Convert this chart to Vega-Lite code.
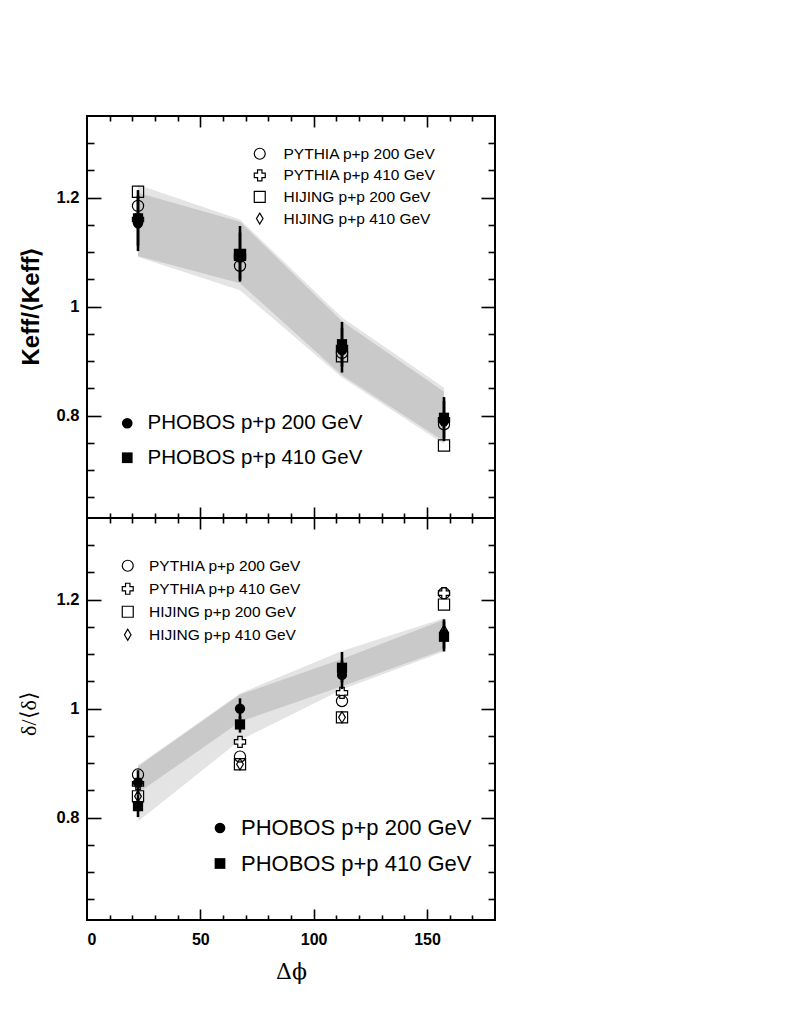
{
  "$schema": "https://vega.github.io/schema/vega-lite/v6.json",
  "background": "white",
  "padding": {"left": 16, "top": 114, "right": 5, "bottom": 5},
  "config": {
    "view": {"stroke": "black", "strokeWidth": 2},
    "axis": {"grid": false, "domain": false, "tickColor": "black", "tickWidth": 1.6, "labelColor": "black", "titleColor": "black"},
    "legend": {"title": null, "orient": "none", "padding": 0, "labelFont": "Liberation Sans", "labelColor": "black", "labelLimit": 0}
  },
  "datasets": {
    "kband": [
      {"phi": 22.5, "lo_out": 1.091, "hi_out": 1.224, "lo_in": 1.093, "hi_in": 1.209},
      {"phi": 67.5, "lo_out": 1.030, "hi_out": 1.160, "lo_in": 1.043, "hi_in": 1.156},
      {"phi": 112.5, "lo_out": 0.870, "hi_out": 0.980, "lo_in": 0.874, "hi_in": 0.973},
      {"phi": 157.5, "lo_out": 0.748, "hi_out": 0.851, "lo_in": 0.753, "hi_in": 0.844}
    ],
    "kphobos": [
      {"phi": 22.5, "exp": "PHOBOS p+p 200 GeV", "v": 1.153, "lo": 1.102, "hi": 1.204},
      {"phi": 22.5, "exp": "PHOBOS p+p 410 GeV", "v": 1.162, "lo": 1.112, "hi": 1.214},
      {"phi": 67.5, "exp": "PHOBOS p+p 200 GeV", "v": 1.091, "lo": 1.046, "hi": 1.136},
      {"phi": 67.5, "exp": "PHOBOS p+p 410 GeV", "v": 1.095, "lo": 1.050, "hi": 1.148},
      {"phi": 112.5, "exp": "PHOBOS p+p 200 GeV", "v": 0.920, "lo": 0.879, "hi": 0.961},
      {"phi": 112.5, "exp": "PHOBOS p+p 410 GeV", "v": 0.931, "lo": 0.890, "hi": 0.972},
      {"phi": 157.5, "exp": "PHOBOS p+p 200 GeV", "v": 0.790, "lo": 0.753, "hi": 0.827},
      {"phi": 157.5, "exp": "PHOBOS p+p 410 GeV", "v": 0.796, "lo": 0.758, "hi": 0.834}
    ],
    "kmodel": [
      {"phi": 22.5, "model": "PYTHIA p+p 200 GeV", "v": 1.185},
      {"phi": 67.5, "model": "PYTHIA p+p 200 GeV", "v": 1.075},
      {"phi": 112.5, "model": "PYTHIA p+p 200 GeV", "v": 0.915},
      {"phi": 157.5, "model": "PYTHIA p+p 200 GeV", "v": 0.784},
      {"phi": 22.5, "model": "PYTHIA p+p 410 GeV", "v": 1.160},
      {"phi": 67.5, "model": "PYTHIA p+p 410 GeV", "v": 1.093},
      {"phi": 112.5, "model": "PYTHIA p+p 410 GeV", "v": 0.925},
      {"phi": 157.5, "model": "PYTHIA p+p 410 GeV", "v": 0.792},
      {"phi": 22.5, "model": "HIJING p+p 200 GeV", "v": 1.211},
      {"phi": 67.5, "model": "HIJING p+p 200 GeV", "v": 1.095},
      {"phi": 112.5, "model": "HIJING p+p 200 GeV", "v": 0.909},
      {"phi": 157.5, "model": "HIJING p+p 200 GeV", "v": 0.745},
      {"phi": 22.5, "model": "HIJING p+p 410 GeV", "v": 1.157},
      {"phi": 67.5, "model": "HIJING p+p 410 GeV", "v": 1.090},
      {"phi": 112.5, "model": "HIJING p+p 410 GeV", "v": 0.922},
      {"phi": 157.5, "model": "HIJING p+p 410 GeV", "v": 0.790}
    ],
    "dband": [
      {"phi": 22.5, "lo_out": 0.793, "hi_out": 0.896, "lo_in": 0.845, "hi_in": 0.894},
      {"phi": 67.5, "lo_out": 0.942, "hi_out": 1.028, "lo_in": 0.976, "hi_in": 1.026},
      {"phi": 112.5, "lo_out": 1.035, "hi_out": 1.106, "lo_in": 1.041, "hi_in": 1.091},
      {"phi": 157.5, "lo_out": 1.105, "hi_out": 1.166, "lo_in": 1.108, "hi_in": 1.163}
    ],
    "dphobos": [
      {"phi": 22.5, "exp": "PHOBOS p+p 200 GeV", "v": 0.864, "lo": 0.842, "hi": 0.887},
      {"phi": 22.5, "exp": "PHOBOS p+p 410 GeV", "v": 0.821, "lo": 0.801, "hi": 0.842},
      {"phi": 67.5, "exp": "PHOBOS p+p 200 GeV", "v": 1.000, "lo": 0.981, "hi": 1.019},
      {"phi": 67.5, "exp": "PHOBOS p+p 410 GeV", "v": 0.971, "lo": 0.956, "hi": 0.986},
      {"phi": 112.5, "exp": "PHOBOS p+p 200 GeV", "v": 1.062, "lo": 1.036, "hi": 1.088},
      {"phi": 112.5, "exp": "PHOBOS p+p 410 GeV", "v": 1.075, "lo": 1.048, "hi": 1.104},
      {"phi": 157.5, "exp": "PHOBOS p+p 200 GeV", "v": 1.137, "lo": 1.110, "hi": 1.164},
      {"phi": 157.5, "exp": "PHOBOS p+p 410 GeV", "v": 1.132, "lo": 1.105, "hi": 1.160}
    ],
    "dmodel": [
      {"phi": 22.5, "model": "PYTHIA p+p 200 GeV", "v": 0.879},
      {"phi": 67.5, "model": "PYTHIA p+p 200 GeV", "v": 0.912},
      {"phi": 112.5, "model": "PYTHIA p+p 200 GeV", "v": 1.014},
      {"phi": 157.5, "model": "PYTHIA p+p 200 GeV", "v": 1.212},
      {"phi": 22.5, "model": "PYTHIA p+p 410 GeV", "v": 0.862},
      {"phi": 67.5, "model": "PYTHIA p+p 410 GeV", "v": 0.939},
      {"phi": 112.5, "model": "PYTHIA p+p 410 GeV", "v": 1.029},
      {"phi": 157.5, "model": "PYTHIA p+p 410 GeV", "v": 1.212},
      {"phi": 22.5, "model": "HIJING p+p 200 GeV", "v": 0.839},
      {"phi": 67.5, "model": "HIJING p+p 200 GeV", "v": 0.898},
      {"phi": 112.5, "model": "HIJING p+p 200 GeV", "v": 0.984},
      {"phi": 157.5, "model": "HIJING p+p 200 GeV", "v": 1.191},
      {"phi": 22.5, "model": "HIJING p+p 410 GeV", "v": 0.839},
      {"phi": 67.5, "model": "HIJING p+p 410 GeV", "v": 0.898},
      {"phi": 112.5, "model": "HIJING p+p 410 GeV", "v": 0.984},
      {"phi": 157.5, "model": "HIJING p+p 410 GeV", "v": 1.143}
    ]
  },
  "vconcat": [
    {
      "width": 408,
      "height": 402,
      "layer": [
        {
          "data": {"name": "kband"},
          "mark": {"type": "area", "color": "#e4e4e4"},
          "encoding": {
            "x": {"field": "phi", "type": "quantitative", "scale": {"domain": [0, 180], "nice": false},
              "axis": {"orient": "bottom", "values": [10, 20, 30, 40, 50, 60, 70, 80, 90, 100, 110, 120, 130, 140, 150, 160, 170], "labels": false, "title": null,
                "tickSize": {"condition": {"test": "datum.value % 50 === 0", "value": -11}, "value": -5}}},
            "y": {"field": "lo_out", "type": "quantitative", "scale": {"domain": [0.612, 1.35], "nice": false, "zero": false},
              "axis": {"orient": "left", "values": [0.65, 0.7, 0.75, 0.8, 0.85, 0.9, 0.95, 1, 1.05, 1.1, 1.15, 1.2, 1.25, 1.3], "labels": false, "title": null,
                "tickSize": {"condition": {"test": "abs(datum.value * 5 - round(datum.value * 5)) < 0.001", "value": -14}, "value": -7}}},
            "y2": {"field": "hi_out"}
          }
        },
        {
          "data": {"name": "kband"},
          "mark": {"type": "area", "color": "#c9c9c9"},
          "encoding": {
            "x": {"field": "phi", "type": "quantitative",
              "axis": {"orient": "top", "values": [10, 20, 30, 40, 50, 60, 70, 80, 90, 100, 110, 120, 130, 140, 150, 160, 170], "labels": false, "title": null,
                "tickSize": {"condition": {"test": "datum.value % 50 === 0", "value": -11}, "value": -5}}},
            "y": {"field": "lo_in", "type": "quantitative",
              "axis": {"orient": "right", "values": [0.65, 0.7, 0.75, 0.8, 0.85, 0.9, 0.95, 1, 1.05, 1.1, 1.15, 1.2, 1.25, 1.3], "labels": false, "title": null,
                "tickSize": {"condition": {"test": "abs(datum.value * 5 - round(datum.value * 5)) < 0.001", "value": -14}, "value": -7}}},
            "y2": {"field": "hi_in"}
          }
        },
        {
          "data": {"name": "kphobos"},
          "mark": {"type": "rule", "color": "black", "strokeWidth": 2.6},
          "encoding": {
            "x": {"field": "phi", "type": "quantitative", "axis": null},
            "y": {"field": "lo", "type": "quantitative",
              "axis": {"orient": "left", "values": [0.8, 1, 1.2], "format": "~g", "ticks": false, "labelPadding": 8,
                "labelFont": "Liberation Sans", "labelFontWeight": "bold", "labelFontSize": 16.5,
                "title": "Keff/⟨Keff⟩", "titleFont": "Liberation Sans", "titleFontWeight": "bold", "titleFontSize": 24, "titlePadding": 13, "titleY": 190}},
            "y2": {"field": "hi"}
          }
        },
        {
          "data": {"name": "kmodel"},
          "mark": {"type": "point", "filled": false, "color": "black", "strokeWidth": 1.2, "size": 125, "opacity": 1},
          "encoding": {
            "x": {"field": "phi", "type": "quantitative", "axis": null},
            "y": {"field": "v", "type": "quantitative", "axis": null},
            "shape": {"field": "model", "type": "nominal",
              "scale": {"domain": ["PYTHIA p+p 200 GeV", "PYTHIA p+p 410 GeV", "HIJING p+p 200 GeV", "HIJING p+p 410 GeV"],
                "range": ["circle", "cross", "square", "M0,-1L0.6,0L0,1L-0.6,0Z"]},
              "legend": {"legendX": 165, "legendY": 30, "labelFontSize": 15.5, "labelOffset": 16, "rowPadding": 3.6,
                "symbolSize": 120, "symbolStrokeWidth": 1.2, "symbolStrokeColor": "black", "symbolFillColor": "transparent"}}
          }
        },
        {
          "data": {"name": "kphobos"},
          "mark": {"type": "point", "filled": true, "color": "black", "size": 105, "opacity": 1},
          "encoding": {
            "x": {"field": "phi", "type": "quantitative", "axis": null},
            "y": {"field": "v", "type": "quantitative", "axis": null},
            "shape": {"field": "exp", "type": "nominal",
              "scale": {"domain": ["PHOBOS p+p 200 GeV", "PHOBOS p+p 410 GeV"], "range": ["circle", "square"]},
              "legend": {"legendX": 30, "legendY": 297, "labelFontSize": 20.5, "labelOffset": 10, "rowPadding": 13.5,
                "symbolSize": 115, "symbolFillColor": "black", "symbolStrokeColor": "black"}}
          }
        }
      ],
      "resolve": {"axis": {"x": "independent", "y": "independent"}, "scale": {"shape": "independent"}, "legend": {"shape": "independent"}}
    },
    {
      "width": 408,
      "height": 402,
      "layer": [
        {
          "data": {"name": "dband"},
          "mark": {"type": "area", "color": "#e4e4e4"},
          "encoding": {
            "x": {"field": "phi", "type": "quantitative", "scale": {"domain": [0, 180], "nice": false},
              "axis": {"orient": "bottom", "values": [10, 20, 30, 40, 50, 60, 70, 80, 90, 100, 110, 120, 130, 140, 150, 160, 170], "labels": false, "title": null,
                "tickSize": {"condition": {"test": "datum.value % 50 === 0", "value": -11}, "value": -5}}},
            "y": {"field": "lo_out", "type": "quantitative", "scale": {"domain": [0.612, 1.35], "nice": false, "zero": false},
              "axis": {"orient": "left", "values": [0.65, 0.7, 0.75, 0.8, 0.85, 0.9, 0.95, 1, 1.05, 1.1, 1.15, 1.2, 1.25, 1.3], "labels": false, "title": null,
                "tickSize": {"condition": {"test": "abs(datum.value * 5 - round(datum.value * 5)) < 0.001", "value": -14}, "value": -7}}},
            "y2": {"field": "hi_out"}
          }
        },
        {
          "data": {"name": "dband"},
          "mark": {"type": "area", "color": "#c9c9c9"},
          "encoding": {
            "x": {"field": "phi", "type": "quantitative",
              "axis": {"orient": "top", "values": [10, 20, 30, 40, 50, 60, 70, 80, 90, 100, 110, 120, 130, 140, 150, 160, 170], "labels": false, "title": null,
                "tickSize": {"condition": {"test": "datum.value % 50 === 0", "value": -11}, "value": -5}}},
            "y": {"field": "lo_in", "type": "quantitative",
              "axis": {"orient": "right", "values": [0.65, 0.7, 0.75, 0.8, 0.85, 0.9, 0.95, 1, 1.05, 1.1, 1.15, 1.2, 1.25, 1.3], "labels": false, "title": null,
                "tickSize": {"condition": {"test": "abs(datum.value * 5 - round(datum.value * 5)) < 0.001", "value": -14}, "value": -7}}},
            "y2": {"field": "hi_in"}
          }
        },
        {
          "data": {"name": "dphobos"},
          "mark": {"type": "rule", "color": "black", "strokeWidth": 2.6},
          "encoding": {
            "x": {"field": "phi", "type": "quantitative",
              "axis": {"orient": "bottom", "values": [0, 50, 100, 150], "ticks": false, "labelPadding": 11,
                "labelFont": "Liberation Sans", "labelFontWeight": "bold", "labelFontSize": 16,
                "title": "Δϕ", "titleFont": "DejaVu Serif", "titleFontWeight": "normal", "titleFontSize": 22, "titlePadding": 14}},
            "y": {"field": "lo", "type": "quantitative",
              "axis": {"orient": "left", "values": [0.8, 1, 1.2], "format": "~g", "ticks": false, "labelPadding": 8,
                "labelFont": "Liberation Sans", "labelFontWeight": "bold", "labelFontSize": 16.5,
                "title": "δ/⟨δ⟩", "titleFont": "Liberation Serif", "titleFontWeight": "normal", "titleFontSize": 22, "titlePadding": 16, "titleY": 195}},
            "y2": {"field": "hi"}
          }
        },
        {
          "data": {"name": "dmodel"},
          "mark": {"type": "point", "filled": false, "color": "black", "strokeWidth": 1.2, "size": 125, "opacity": 1},
          "encoding": {
            "x": {"field": "phi", "type": "quantitative", "axis": null},
            "y": {"field": "v", "type": "quantitative", "axis": null},
            "shape": {"field": "model", "type": "nominal",
              "scale": {"domain": ["PYTHIA p+p 200 GeV", "PYTHIA p+p 410 GeV", "HIJING p+p 200 GeV", "HIJING p+p 410 GeV"],
                "range": ["circle", "cross", "square", "M0,-1L0.6,0L0,1L-0.6,0Z"]},
              "legend": {"legendX": 33, "legendY": 40, "labelFontSize": 15.5, "labelOffset": 13.5, "rowPadding": 5,
                "symbolSize": 120, "symbolStrokeWidth": 1.2, "symbolStrokeColor": "black", "symbolFillColor": "transparent"}}
          }
        },
        {
          "data": {"name": "dphobos"},
          "mark": {"type": "point", "filled": true, "color": "black", "size": 105, "opacity": 1},
          "encoding": {
            "x": {"field": "phi", "type": "quantitative", "axis": null},
            "y": {"field": "v", "type": "quantitative", "axis": null},
            "shape": {"field": "exp", "type": "nominal",
              "scale": {"domain": ["PHOBOS p+p 200 GeV", "PHOBOS p+p 410 GeV"], "range": ["circle", "square"]},
              "legend": {"legendX": 122, "legendY": 299, "labelFontSize": 22, "labelOffset": 10, "rowPadding": 13.5,
                "symbolSize": 115, "symbolFillColor": "black", "symbolStrokeColor": "black"}}
          }
        }
      ],
      "resolve": {"axis": {"x": "independent", "y": "independent"}, "scale": {"shape": "independent"}, "legend": {"shape": "independent"}}
    }
  ],
  "spacing": 0,
  "bounds": "flush",
  "resolve": {"scale": {"shape": "independent"}, "legend": {"shape": "independent"}}
}
